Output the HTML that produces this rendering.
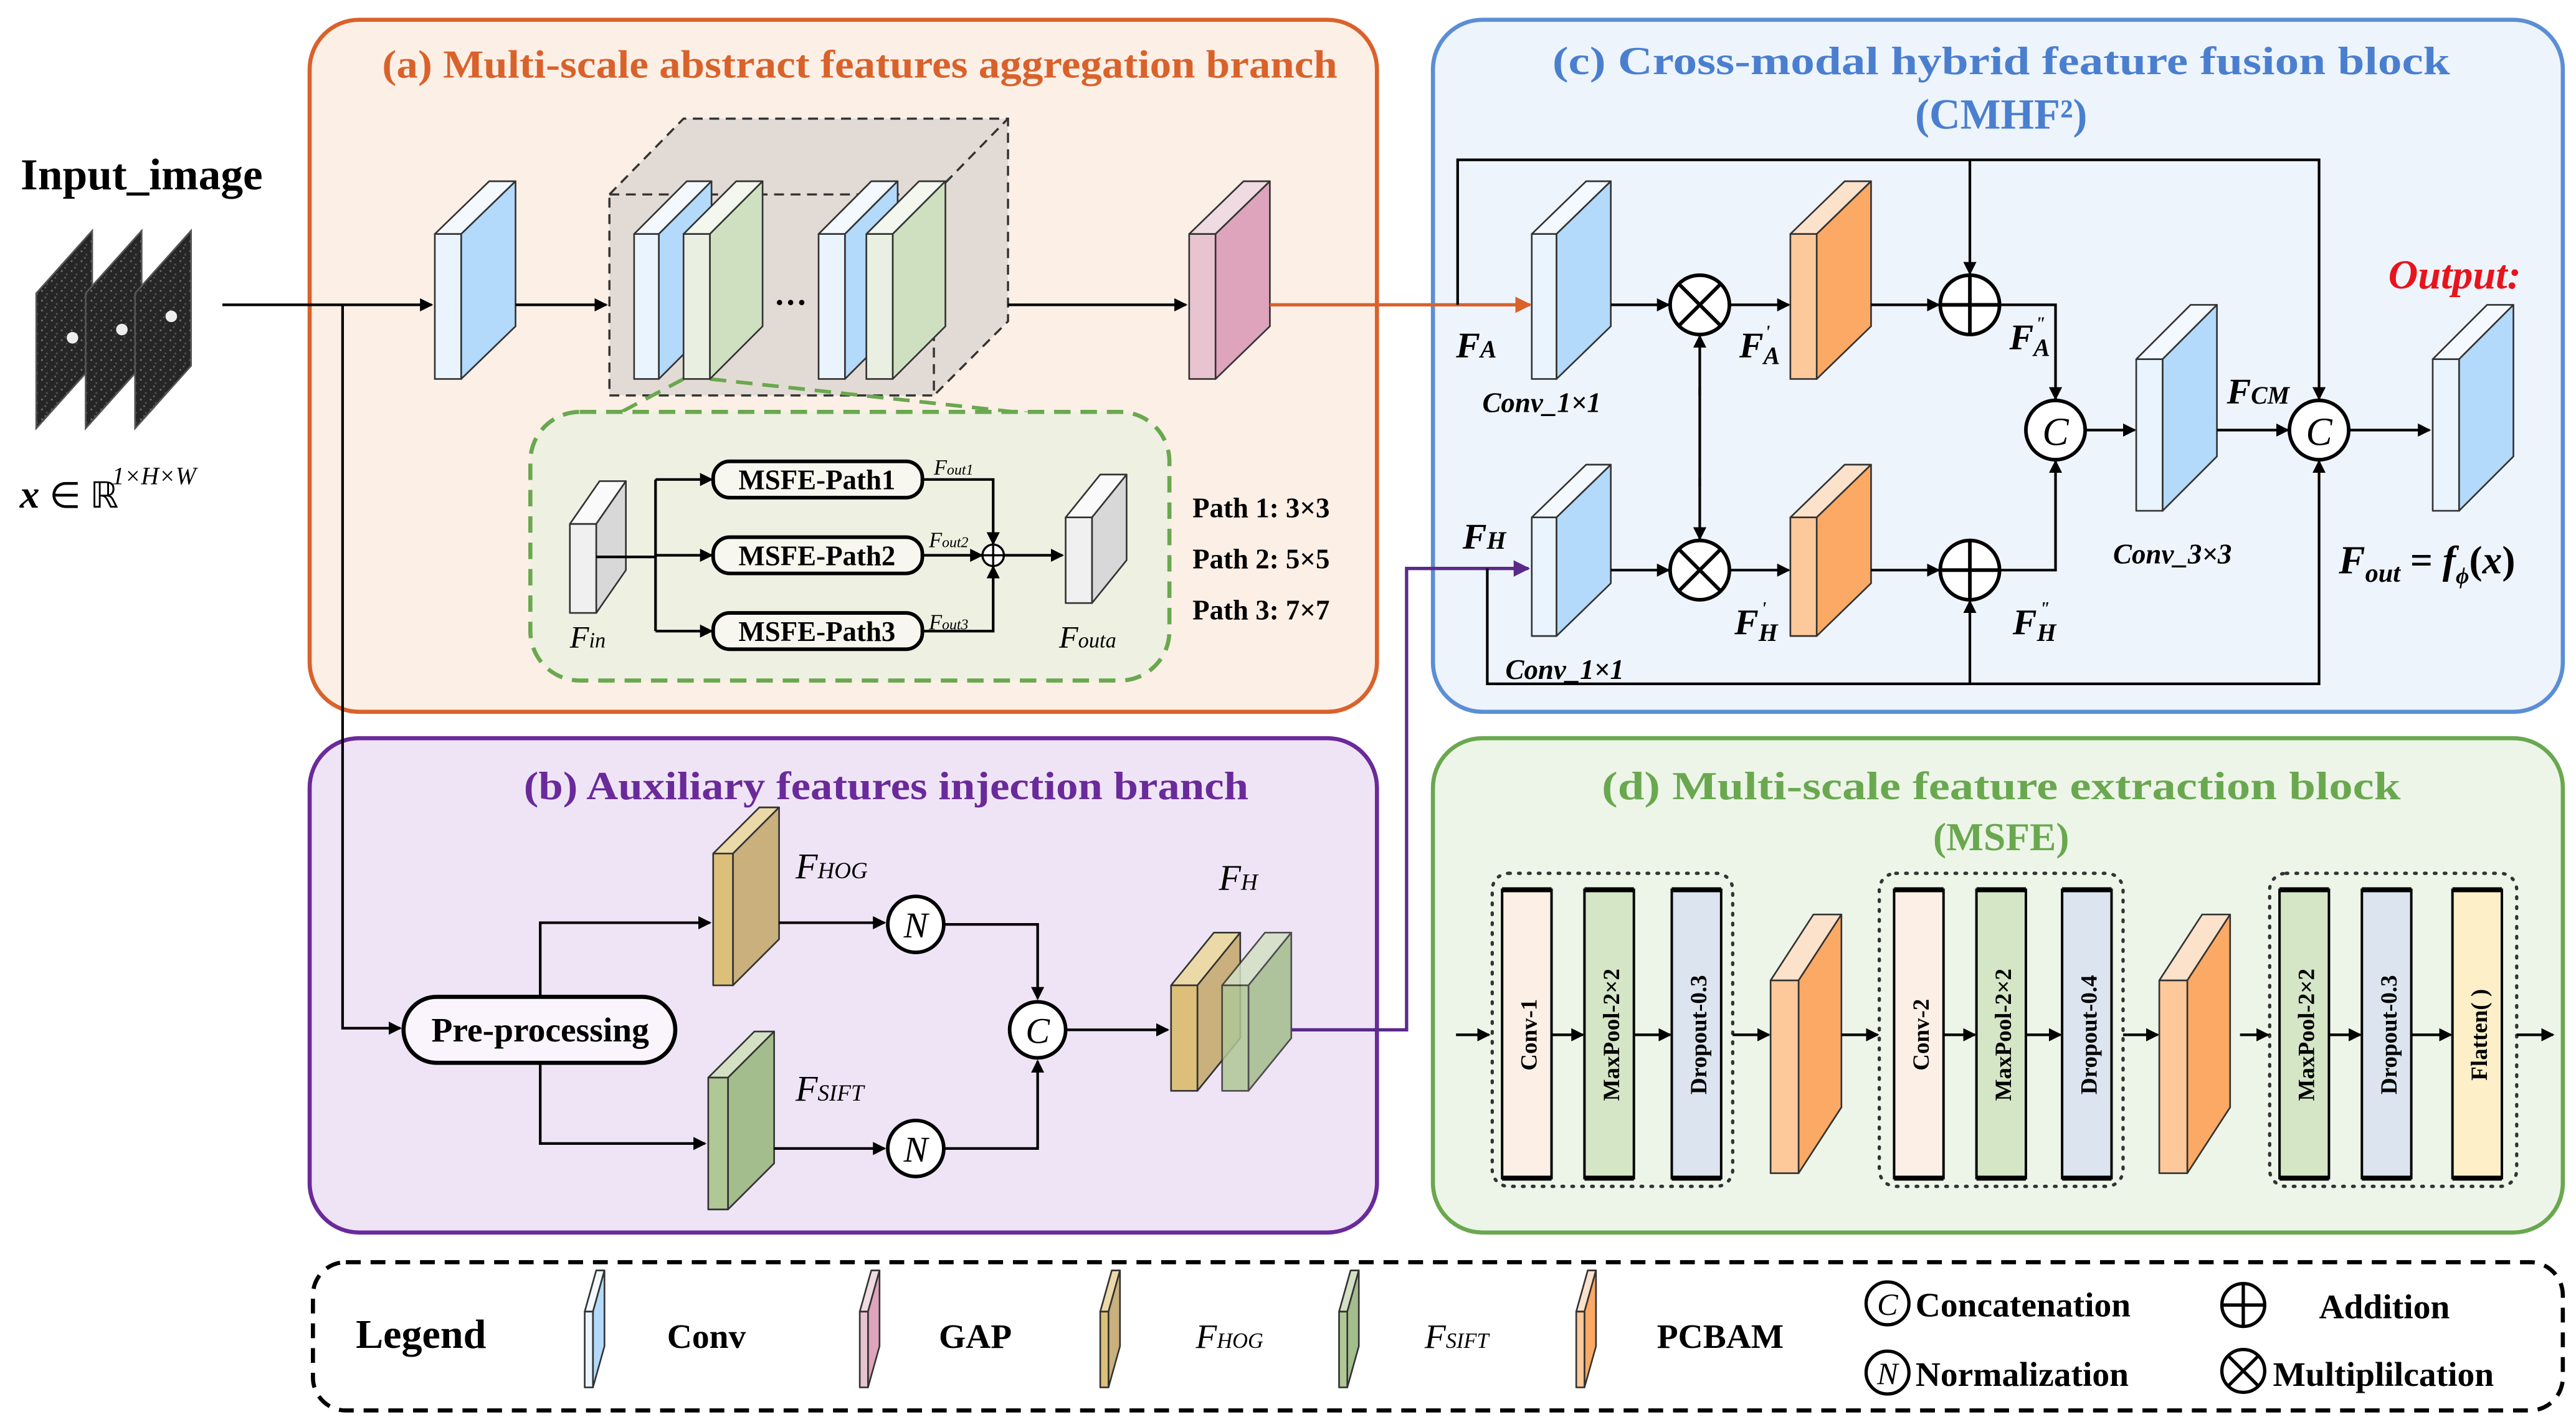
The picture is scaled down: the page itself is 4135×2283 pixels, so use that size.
<!DOCTYPE html>
<html><head><meta charset="utf-8"><style>
html,body{margin:0;padding:0;background:#fff}
svg{display:block}
text{font-family:"Liberation Serif",serif}
.b{font-weight:bold}
.i{font-style:italic}
</style></head><body>
<svg id="s" xmlns="http://www.w3.org/2000/svg" width="4135" height="2283" viewBox="0 0 1564 863" preserveAspectRatio="none">
<defs>
<marker id="ah" markerWidth="8" markerHeight="8" refX="7" refY="4" orient="auto" markerUnits="userSpaceOnUse"><path d="M0,0 L8,4 L0,8 z" fill="#000"/></marker>
<marker id="ao" markerWidth="10" markerHeight="10" refX="9" refY="5" orient="auto" markerUnits="userSpaceOnUse"><path d="M0,0 L10,5 L0,10 z" fill="#d9622b"/></marker>
<marker id="ap" markerWidth="10" markerHeight="10" refX="9" refY="5" orient="auto" markerUnits="userSpaceOnUse"><path d="M0,0 L10,5 L0,10 z" fill="#5a2a8a"/></marker>
<pattern id="nz" width="6" height="6" patternUnits="userSpaceOnUse">
<rect width="6" height="6" fill="#262626"/><rect x="1" y="2" width="1" height="1" fill="#777"/><rect x="4" y="4" width="1" height="1" fill="#555"/><rect x="3" y="0" width="1" height="1" fill="#666"/>
</pattern>
</defs>

<!-- Input -->
<text x="86" y="115" text-anchor="middle" class="b" font-size="27">Input_image</text>
<g fill="url(#nz)" stroke="#555" stroke-width="1">
<polygon points="22,178 56,140 56,222 22,260"/>
<polygon points="52,178 86,140 86,222 52,260"/>
<polygon points="82,178 116,140 116,222 82,260"/>
</g>
<g fill="#eee"><circle cx="44" cy="205" r="3.5"/><circle cx="74" cy="200" r="3.5"/><circle cx="104" cy="192" r="3.5"/></g>
<text x="12" y="308" class="b i" font-size="24">x</text>
<text x="30" y="308" font-size="22">∈ ℝ</text>
<text x="68" y="294" class="i" font-size="15">1×H×W</text>

<!-- Panel a -->
<rect x="188" y="12" width="648" height="420" rx="30" fill="#fcefe6" stroke="#d9622b" stroke-width="2.5"/>
<text x="522" y="47" text-anchor="middle" class="b" font-size="24" fill="#d9622b" textLength="580" lengthAdjust="spacingAndGlyphs">(a) Multi-scale abstract features aggregation branch</text>
<!-- Panel b -->
<rect x="188" y="448" width="648" height="300" rx="30" fill="#efe4f6" stroke="#6a2a9a" stroke-width="2.5"/>
<text x="538" y="485" text-anchor="middle" class="b" font-size="24" fill="#6a2a9a" textLength="440" lengthAdjust="spacingAndGlyphs">(b) Auxiliary features injection branch</text>
<!-- Panel c -->
<rect x="870" y="12" width="686" height="420" rx="30" fill="#eef4fc" stroke="#5b8ed6" stroke-width="2.5"/>
<text x="1215" y="45" text-anchor="middle" class="b" font-size="24" fill="#4a7fd0" textLength="545" lengthAdjust="spacingAndGlyphs">(c) Cross-modal hybrid feature fusion block</text>
<text x="1215" y="78" text-anchor="middle" class="b" font-size="26" fill="#4a7fd0">(CMHF²)</text>
<!-- Panel d -->
<rect x="870" y="448" width="686" height="300" rx="30" fill="#edf5e8" stroke="#6aa84f" stroke-width="2.5"/>
<text x="1215" y="485" text-anchor="middle" class="b" font-size="24" fill="#6aa84f" textLength="485" lengthAdjust="spacingAndGlyphs">(d) Multi-scale feature extraction block</text>
<text x="1215" y="516" text-anchor="middle" class="b" font-size="24" fill="#6aa84f">(MSFE)</text>
<!-- Legend box -->
<rect x="190" y="766" width="1366" height="90" rx="20" fill="#fff" stroke="#000" stroke-width="2.5" stroke-dasharray="9,6"/>

<!-- dashed cube -->
<polygon points="370,118 415,72 612,72 612,195 567,240 370,240" fill="#e2dbd5"/>
<g fill="none" stroke="#333" stroke-width="1.3" stroke-dasharray="6,4">
<rect x="370" y="118" width="197" height="122"/>
<polyline points="370,118 415,72 612,72 612,195 567,240"/>
<line x1="567" y1="118" x2="612" y2="72"/>
</g>
<!-- zoom box -->
<g fill="none" stroke="#6aa84f" stroke-width="2.2" stroke-dasharray="10,6">
<line x1="415" y1="230" x2="330" y2="275"/>
<line x1="431" y1="230" x2="690" y2="258"/>
</g>
<rect x="322" y="250" width="388" height="163" rx="30" fill="#eef0e2" stroke="#6aa84f" stroke-width="2.5" stroke-dasharray="10,6"/>

<g id="slabs"></g>

<!-- a: connectors -->
<g stroke="#000" stroke-width="1.6" fill="none">
<line x1="135" y1="185" x2="262" y2="185" marker-end="url(#ah)"/>
<polyline points="208,185 208,624 243,624" marker-end="url(#ah)"/>
<line x1="313" y1="185" x2="368" y2="185" marker-end="url(#ah)"/>
<line x1="612" y1="185" x2="720" y2="185" marker-end="url(#ah)"/>
<line x1="362" y1="338" x2="398" y2="338"/>
<line x1="398" y1="291" x2="398" y2="383"/>
<line x1="398" y1="291" x2="432" y2="291" marker-end="url(#ah)"/>
<line x1="398" y1="337" x2="432" y2="337" marker-end="url(#ah)"/>
<line x1="398" y1="383" x2="432" y2="383" marker-end="url(#ah)"/>
<polyline points="560,291 603,291 603,330" marker-end="url(#ah)"/>
<line x1="560" y1="337" x2="596" y2="337" marker-end="url(#ah)"/>
<polyline points="560,383 603,383 603,344" marker-end="url(#ah)"/>
<line x1="609" y1="337" x2="645" y2="337" marker-end="url(#ah)"/>
</g>
<circle cx="603" cy="337" r="6.5" fill="#fff" stroke="#000" stroke-width="1.3"/>
<path d="M596.5,337 H609.5 M603,330.5 V343.5" stroke="#000" stroke-width="1.3"/>
<line x1="771" y1="185" x2="929" y2="185" stroke="#d9622b" stroke-width="2" marker-end="url(#ao)"/>
<text x="480" y="185" text-anchor="middle" class="b" font-size="20">…</text>
<g stroke="#000" stroke-width="2.2" fill="#f7f7ef">
<rect x="433" y="280" width="127" height="22" rx="10"/>
<rect x="433" y="326" width="127" height="22" rx="10"/>
<rect x="433" y="372" width="127" height="22" rx="10"/>
</g>
<g class="b" font-size="17" text-anchor="middle">
<text x="496" y="297">MSFE-Path1</text>
<text x="496" y="343">MSFE-Path2</text>
<text x="496" y="389">MSFE-Path3</text>
</g>
<g class="i" font-size="13">
<text x="567" y="288">F<tspan font-size="9">out1</tspan></text>
<text x="564" y="332">F<tspan font-size="9">out2</tspan></text>
<text x="564" y="382">F<tspan font-size="9">out3</tspan></text>
</g>
<text x="346" y="393" class="i" font-size="19">F<tspan font-size="13">in</tspan></text>
<text x="643" y="393" class="i" font-size="19">F<tspan font-size="13">outa</tspan></text>
<g class="b" font-size="17">
<text x="724" y="314">Path 1: 3×3</text>
<text x="724" y="345">Path 2: 5×5</text>
<text x="724" y="376">Path 3: 7×7</text>
</g>

<!-- b -->
<rect x="245" y="605" width="165" height="40" rx="20" fill="#faf5fc" stroke="#000" stroke-width="2.5"/>
<text x="328" y="632" text-anchor="middle" class="b" font-size="21">Pre-processing</text>
<g stroke="#000" stroke-width="1.6" fill="none">
<polyline points="328,605 328,560 431,560" marker-end="url(#ah)"/>
<polyline points="328,645 328,694 428,694" marker-end="url(#ah)"/>
<line x1="473" y1="560" x2="537" y2="560" marker-end="url(#ah)"/>
<line x1="470" y1="697" x2="537" y2="697" marker-end="url(#ah)"/>
<polyline points="573,561 630,561 630,606" marker-end="url(#ah)"/>
<polyline points="573,697 630,697 630,644" marker-end="url(#ah)"/>
<line x1="647" y1="625" x2="709" y2="625" marker-end="url(#ah)"/>
</g>
<g fill="#fff" stroke="#000" stroke-width="2.2">
<circle cx="556" cy="561" r="17"/><circle cx="556" cy="697" r="17"/><circle cx="630" cy="625" r="17"/>
</g>
<g class="i" font-size="22" text-anchor="middle">
<text x="556" y="569">N</text><text x="556" y="705">N</text><text x="630" y="633">C</text>
</g>
<text x="483" y="533" class="i" font-size="22">F<tspan font-size="14">HOG</tspan></text>
<text x="483" y="668" class="i" font-size="22">F<tspan font-size="14">SIFT</tspan></text>
<text x="740" y="540" class="i" font-size="22">F<tspan font-size="14">H</tspan></text>
<polyline points="784,625 854,625 854,345 928,345" fill="none" stroke="#5a2a8a" stroke-width="2" marker-end="url(#ap)"/>

<!-- c connectors -->
<g stroke="#000" stroke-width="1.6" fill="none">
<polyline points="885,185 885,97 1408,97 1408,242" marker-end="url(#ah)"/>
<line x1="1196" y1="97" x2="1196" y2="166" marker-end="url(#ah)"/>
<line x1="978" y1="185" x2="1013" y2="185" marker-end="url(#ah)"/>
<line x1="1050" y1="185" x2="1086" y2="185" marker-end="url(#ah)"/>
<line x1="1136" y1="185" x2="1177" y2="185" marker-end="url(#ah)"/>
<polyline points="1214,185 1248,185 1248,242" marker-end="url(#ah)"/>
<line x1="978" y1="346" x2="1013" y2="346" marker-end="url(#ah)"/>
<line x1="1050" y1="346" x2="1086" y2="346" marker-end="url(#ah)"/>
<line x1="1136" y1="346" x2="1177" y2="346" marker-end="url(#ah)"/>
<polyline points="1214,346 1248,346 1248,280" marker-end="url(#ah)"/>
<line x1="1032" y1="240" x2="1032" y2="204" marker-end="url(#ah)"/>
<line x1="1032" y1="290" x2="1032" y2="327" marker-end="url(#ah)"/>
<line x1="1032" y1="235" x2="1032" y2="295"/>
<polyline points="903,345 903,415 1408,415 1408,280" marker-end="url(#ah)"/>
<line x1="1196" y1="415" x2="1196" y2="365" marker-end="url(#ah)"/>
<line x1="1266" y1="261" x2="1296" y2="261" marker-end="url(#ah)"/>
<line x1="1346" y1="261" x2="1389" y2="261" marker-end="url(#ah)"/>
<line x1="1426" y1="261" x2="1475" y2="261" marker-end="url(#ah)"/>
</g>
<g fill="#fff" stroke="#000" stroke-width="2.2">
<circle cx="1032" cy="185" r="18"/><circle cx="1032" cy="346" r="18"/>
<circle cx="1196" cy="185" r="18"/><circle cx="1196" cy="346" r="18"/>
<circle cx="1248" cy="261" r="18"/><circle cx="1408" cy="261" r="18"/>
</g>
<g stroke="#000" stroke-width="2.2">
<path d="M1019,172 L1045,198 M1045,172 L1019,198"/>
<path d="M1019,333 L1045,359 M1045,333 L1019,359"/>
<path d="M1178,185 H1214 M1196,167 V203"/>
<path d="M1178,346 H1214 M1196,328 V364"/>
</g>
<g class="i" font-size="24" text-anchor="middle">
<text x="1248" y="270">C</text><text x="1408" y="270">C</text>
</g>
<g class="b i">
<text x="884" y="217" font-size="22">F<tspan font-size="15">A</tspan></text>
<text x="888" y="333" font-size="22">F<tspan font-size="15">H</tspan></text>
<text x="1056" y="217" font-size="22">F<tspan font-size="15" dy="4">A</tspan><tspan font-size="11" dx="-9" dy="-16">'</tspan></text>
<text x="1053" y="385" font-size="22">F<tspan font-size="15" dy="4">H</tspan><tspan font-size="11" dx="-10" dy="-16">'</tspan></text>
<text x="1220" y="212" font-size="22">F<tspan font-size="15" dy="4">A</tspan><tspan font-size="11" dx="-9" dy="-16">"</tspan></text>
<text x="1222" y="385" font-size="22">F<tspan font-size="15" dy="4">H</tspan><tspan font-size="11" dx="-10" dy="-16">"</tspan></text>
<text x="1352" y="245" font-size="22">F<tspan font-size="15">CM</tspan></text>
<text x="900" y="250" font-size="17">Conv_1×1</text>
<text x="914" y="412" font-size="17">Conv_1×1</text>
<text x="1283" y="342" font-size="17">Conv_3×3</text>
<text x="1420" y="348" font-size="24">F<tspan font-size="16" dy="5">out</tspan><tspan dy="-5" font-style="normal"> = </tspan>f<tspan font-size="14" dy="6">ϕ</tspan><tspan dy="-6" font-style="normal">(</tspan>x<tspan font-style="normal">)</tspan></text>
<text x="1450" y="175" font-size="25" fill="#e8141c">Output:</text>
</g>

<!-- d -->
<g fill="none" stroke="#333" stroke-width="2" stroke-dasharray="1,5" stroke-linecap="round">
<rect x="906" y="530" width="146" height="190" rx="10"/>
<rect x="1141" y="530" width="148" height="190" rx="10"/>
<rect x="1378" y="530" width="150" height="190" rx="10"/>
</g>
<g stroke="#000" stroke-width="1.5">
<rect x="912" y="540" width="30" height="175" fill="#fcefe6"/>
<rect x="962" y="540" width="30" height="175" fill="#d5e6c7"/>
<rect x="1015" y="540" width="30" height="175" fill="#dbe4ef"/>
<rect x="1150" y="540" width="30" height="175" fill="#fcefe6"/>
<rect x="1200" y="540" width="30" height="175" fill="#d5e6c7"/>
<rect x="1252" y="540" width="30" height="175" fill="#dbe4ef"/>
<rect x="1384" y="540" width="30" height="175" fill="#d5e6c7"/>
<rect x="1434" y="540" width="30" height="175" fill="#dbe4ef"/>
<rect x="1489" y="540" width="30" height="175" fill="#fdf0c8"/>
</g>
<g stroke="#000" stroke-width="3"><path d="M912,540h30M962,540h30M1015,540h30M1150,540h30M1200,540h30M1252,540h30M1384,540h30M1434,540h30M1489,540h30M912,715h30M962,715h30M1015,715h30M1150,715h30M1200,715h30M1252,715h30M1384,715h30M1434,715h30M1489,715h30"/></g>
<g class="b" font-size="14" text-anchor="middle">
<text transform="translate(933,628) rotate(-90)">Conv-1</text>
<text transform="translate(983,628) rotate(-90)">MaxPool-2×2</text>
<text transform="translate(1036,628) rotate(-90)">Dropout-0.3</text>
<text transform="translate(1171,628) rotate(-90)">Conv-2</text>
<text transform="translate(1221,628) rotate(-90)">MaxPool-2×2</text>
<text transform="translate(1273,628) rotate(-90)">Dropout-0.4</text>
<text transform="translate(1405,628) rotate(-90)">MaxPool-2×2</text>
<text transform="translate(1455,628) rotate(-90)">Dropout-0.3</text>
<text transform="translate(1510,628) rotate(-90)">Flatten( )</text>
</g>
<g stroke="#000" stroke-width="1.6" fill="none">
<line x1="884" y1="628" x2="904" y2="628" marker-end="url(#ah)"/>
<line x1="942" y1="628" x2="961" y2="628" marker-end="url(#ah)"/>
<line x1="992" y1="628" x2="1014" y2="628" marker-end="url(#ah)"/>
<line x1="1052" y1="628" x2="1074" y2="628" marker-end="url(#ah)"/>
<line x1="1118" y1="628" x2="1140" y2="628" marker-end="url(#ah)"/>
<line x1="1180" y1="628" x2="1199" y2="628" marker-end="url(#ah)"/>
<line x1="1230" y1="628" x2="1251" y2="628" marker-end="url(#ah)"/>
<line x1="1289" y1="628" x2="1310" y2="628" marker-end="url(#ah)"/>
<line x1="1360" y1="628" x2="1377" y2="628" marker-end="url(#ah)"/>
<line x1="1414" y1="628" x2="1433" y2="628" marker-end="url(#ah)"/>
<line x1="1464" y1="628" x2="1488" y2="628" marker-end="url(#ah)"/>
<line x1="1528" y1="628" x2="1550" y2="628" marker-end="url(#ah)"/>
</g>

<!-- Legend contents -->
<text x="216" y="818" class="b" font-size="25">Legend</text>
<g class="b" font-size="21">
<text x="405" y="818">Conv</text>
<text x="570" y="818">GAP</text>
<text x="1006" y="818">PCBAM</text>
<text x="1163" y="799">Concatenation</text>
<text x="1163" y="841">Normalization</text>
<text x="1408" y="800">Addition</text>
<text x="1380" y="841">Multiplilcation</text>
</g>
<text x="726" y="818" class="i" font-size="21">F<tspan font-size="13">HOG</tspan></text>
<text x="865" y="818" class="i" font-size="21">F<tspan font-size="13">SIFT</tspan></text>
<g fill="#fff" stroke="#000" stroke-width="2">
<circle cx="1146" cy="791" r="13"/><circle cx="1146" cy="833" r="13"/>
<circle cx="1362" cy="792" r="13"/><circle cx="1362" cy="832" r="13"/>
</g>
<g stroke="#000" stroke-width="2"><path d="M1349,792H1375M1362,779V805M1353,823L1371,841M1371,823L1353,841"/></g>
<g class="i" font-size="19" text-anchor="middle"><text x="1146" y="798">C</text><text x="1146" y="840">N</text></g>
</svg>
<script>
(function(){
var g=document.getElementById('slabs'),NS='http://www.w3.org/2000/svg';
function P(pts,f){var p=document.createElementNS(NS,'polygon');p.setAttribute('points',pts);p.setAttribute('fill',f);p.setAttribute('stroke','#333');p.setAttribute('stroke-width','1');p.setAttribute('stroke-linejoin','round');g.appendChild(p);}
function S(x,y,w,h,dx,dy,fr,sd,tp,op){
 var gg=g; if(op){var q=document.createElementNS(NS,'g');q.setAttribute('opacity',op);g.appendChild(q);g=q;}
 P(x+','+y+' '+(x+w)+','+y+' '+(x+w+dx)+','+(y-dy)+' '+(x+dx)+','+(y-dy),tp);
 P((x+w)+','+y+' '+(x+w+dx)+','+(y-dy)+' '+(x+w+dx)+','+(y+h-dy)+' '+(x+w)+','+(y+h),sd);
 P(x+','+y+' '+(x+w)+','+y+' '+(x+w)+','+(y+h)+' '+x+','+(y+h),fr);
 g=gg;
}
var B=['#eaf4fe','#b3d9fb','#f4f9ff'],G=['#e9f0e2','#cfe0c0','#f3f7ee'],K=['#e8c4d0','#dea4bb','#f0dbe2'],O=['#fdc89a','#fba964','#fde2cb'],W=['#f0f0f0','#d8d8d8','#fafafa'],T=['#dcc07a','#c9b07c','#ecd9a8'],N=['#b0c796','#a3bd8c','#d3e0c4'];
function s(x,y,w,h,dx,dy,c,op){S(x,y,w,h,dx,dy,c[0],c[1],c[2],op);}
s(264,142,16,88,33,32,B);
s(385,142,15,88,32,32,B);s(415,142,16,88,32,32,G);
s(497,142,16,88,32,32,B);s(526,142,16,88,32,32,G);
s(722,142,16,88,33,32,K);
s(346,318,16,54,18,26,W);s(647,314,16,52,21,26,W);
s(433,518,12,80,28,28,T);s(430,654,12,80,28,28,N);
s(711,598,16,64,26,32,T);s(742,598,16,64,26,32,N,0.85);
s(930,142,15,88,33,32,B);s(930,314,15,72,33,32,B);
s(1087,142,16,88,33,32,O);s(1087,314,16,72,33,32,O);
s(1297,218,16,92,33,33,B);s(1477,218,16,92,33,33,B);
s(1075,595,17,117,26,40,O);s(1311,595,17,117,26,40,O);
var L=[[355,B],[522,K],[668,T],[813,N],[957,O]];
L.forEach(function(a){s(a[0],796,5,46,7,25,a[1]);});
})();
</script>
</body></html>
